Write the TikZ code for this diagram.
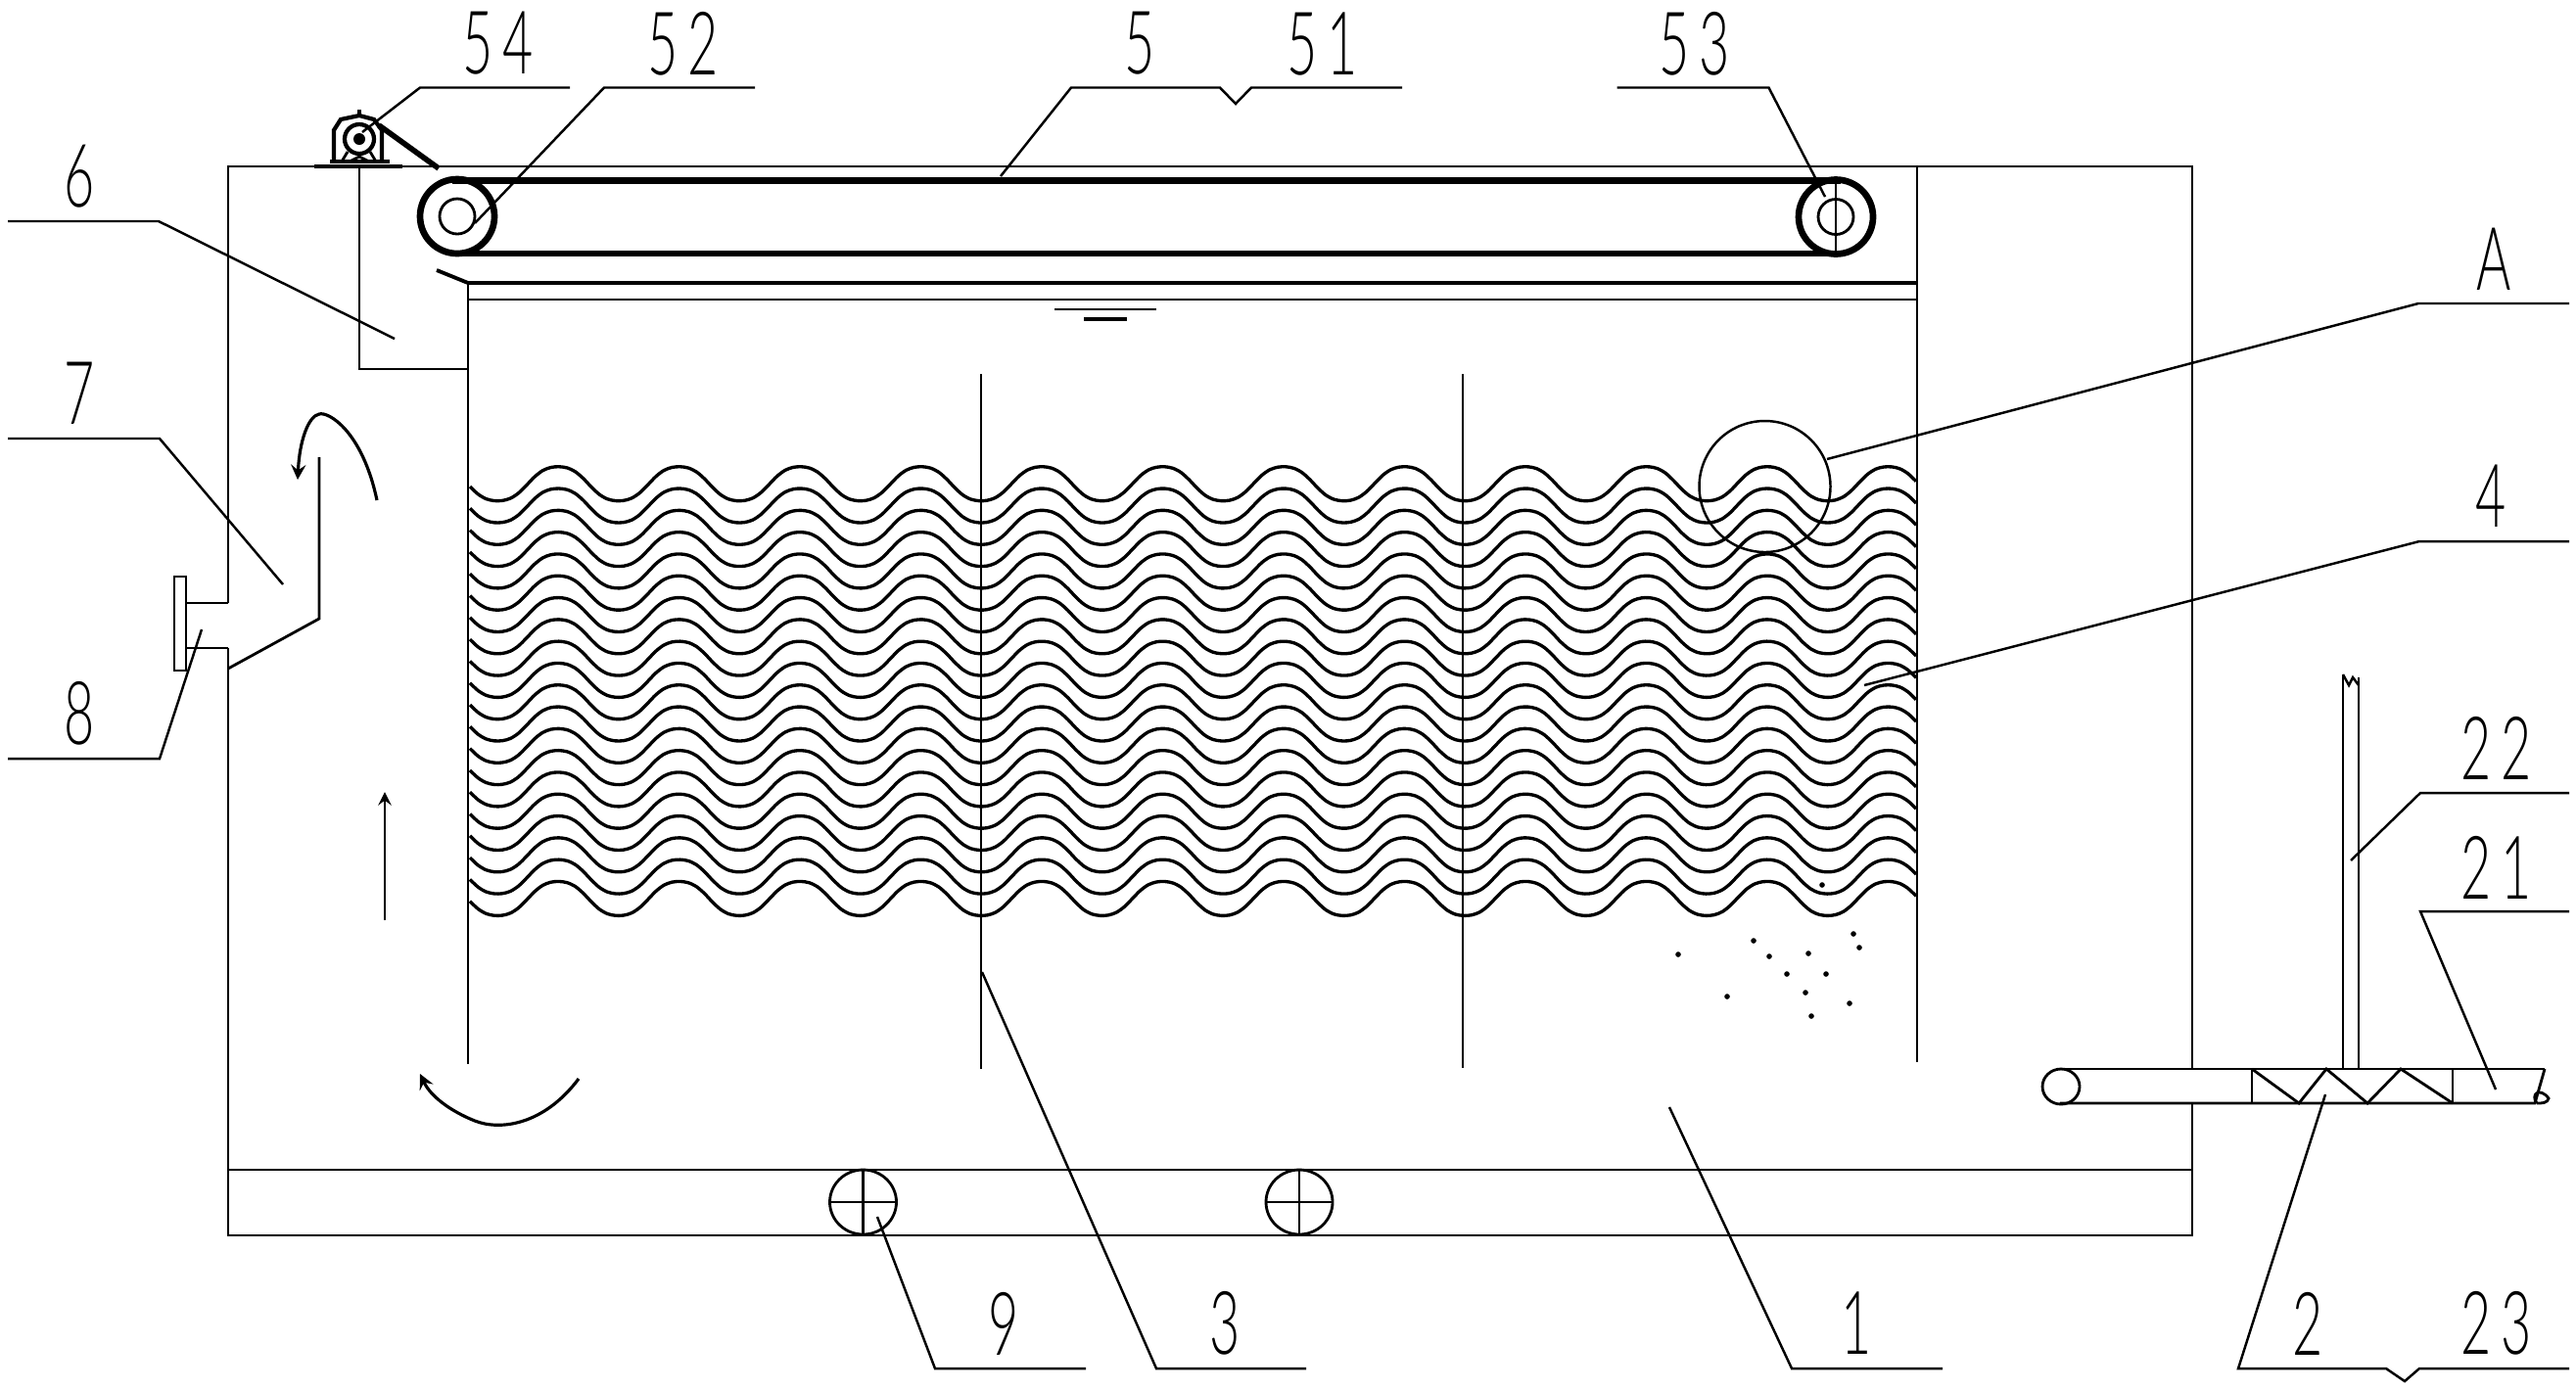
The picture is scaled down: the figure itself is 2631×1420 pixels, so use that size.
\documentclass[tikz,border=0pt]{standalone}
\usepackage{fontspec}
\newfontfamily\partfont[LetterSpace=18]{Lato Light}
\usetikzlibrary{arrows,positioning}
\tikzstyle{partlabel} = [inner sep=0pt, font=\partfont\fontsize{25.5}{26}\selectfont, xscale=0.6]
\tikzstyle{leader} = [line width=0.7pt]
\tikzstyle{wall} = [line width=0.8pt]
\tikzstyle{belt} = [line width=1.9pt]
\tikzstyle{flow} = [line width=0.9pt,->,>=stealth]

\begin{document}
\begin{tikzpicture}[x=0.01cm, y=-0.01cm, line join=miter]
\useasboundingbox (0,0) rectangle (2631,1420);

% Tank
\draw[wall] (233,616) -- (233,170) -- (2239,170) -- (2239,1092);
\draw[wall] (2239,1127) -- (2239,1262) -- (233,1262) -- (233,662);
\draw[wall] (233,1195) -- (2239,1195);

% Inner walls and baffles
\draw[wall] (478,289) -- (478,1087);
\draw[wall] (1958,170) -- (1958,1085);
\draw[wall] (1002,382) -- (1002,1092);
\draw[wall] (1494,382) -- (1494,1091);

% Water level
\draw[line width=1.1pt] (446,276) -- (478,289) -- (1958,289);
\draw[wall] (478,306) -- (1958,306);
\draw[leader] (1077,316) -- (1181,316);
\draw[line width=1.1pt] (1107,326) -- (1151,326);

% Collecting trough
\draw[wall] (367,170) -- (367,377) -- (478,377);

% Belt and pulleys
\draw[belt] (462,184.5) -- (1880,184.5);
\draw[belt] (462,259) -- (1880,259);
\draw[belt] (467,221) circle (38);
\draw[wall] (467,221) circle (18);
\draw[belt] (1875,221.5) circle (38);
\draw[wall] (1875,221.5) circle (18);
\draw[wall] (1875,184) -- (1875,262);

% Motor
\draw[line width=1.2pt] (341,165) -- (341,133) -- (348,122) -- (367,118) -- (382,122) -- (390,133) -- (390,165);
\draw[line width=1.2pt] (367,142) circle (15);
\fill (367,142) circle (6);
\draw[line width=1.1pt] (367,112) -- (367,118);
\draw[wall] (349,165) -- (355,155) (384,165) -- (378,155) (357,165) -- (367,160) -- (377,165);
\draw[line width=1.3pt] (337,165) -- (398,165);
\draw[line width=1.3pt] (321,170) -- (411,170);
\draw[line width=1.6pt] (387,128) -- (448,172);

% Overflow pipe and flange
\draw[wall] (233,616) -- (190,616);
\draw[wall] (233,662) -- (190,662);
\draw[leader] (178,589) rectangle (190,685);
\draw[wall] (233,683) -- (326,632) -- (326,467);

% Corrugated packing
\foreach \row in {0,...,19} {
\draw[line width=0.95pt] plot[smooth, domain=480:1957, samples=180] (\x,{494.2+22.3*\row-18.4*(cos((\x-570)/123.5*360)-0.05*cos((\x-570)/123.5*1080))});
}

% Detail circle
\draw[leader] (1802.5,497) circle (67);

% Particles
\foreach \px/\py in {1714/975,1791/961,1807/977,1847/974,1825/995,1865/995,1764/1018,1844/1014,1889/1025,1850/1038,1893/954,1899/968,1861/904} {
\fill (\px,\py) circle (2.8);
}

% Flow arrows
\draw[flow] (385,511) .. controls (370,440) and (335,420) .. (326,423) .. controls (315,425) and (306,450) .. (304,490);
\draw[leader,->,>=stealth] (393,940) -- (393,809);
\draw[flow] (591,1102) .. controls (555,1150) and (510,1155) .. (485,1145) .. controls (460,1135) and (440,1120) .. (429,1097);

% Aerators
\draw[wall] (881.5,1228) ellipse (34 and 33);
\draw[wall] (847,1228) -- (916,1228) (881.5,1195) -- (881.5,1262);
\draw[wall] (1327,1228) ellipse (34 and 33);
\draw[wall] (1293,1228) -- (1361,1228) (1327,1195) -- (1327,1262);

% Feed pipe and screw
\draw[wall] (2104,1092) -- (2599,1092);
\draw[wall] (2104,1127) -- (2589,1127) -- (2599,1092);
\draw[wall] (2105,1110) ellipse (19 and 18);
\draw[wall] (2591,1127) .. controls (2584,1118) and (2594,1110) .. (2603,1122) .. controls (2602,1127) and (2596,1127) .. (2591,1127);
\draw[wall] (2300,1092) rectangle (2505,1127);
\draw[wall] (2300,1092) -- (2348,1127) -- (2376,1092) -- (2418,1127) -- (2452,1092) -- (2505,1127);
\draw[wall] (2393,1092) -- (2393,689);
\draw[wall] (2409,1092) -- (2409,692);
\draw[leader] (2393,689) -- (2399,700) -- (2403,692) -- (2409,700);

% Labels and leaders
\node (lab54) [partlabel] at (509,44.5) {54};
\coordinate (tip54) at (370,135); \coordinate (knee54) at (429,89.5); \coordinate (end54) at (582,89.5);
\draw[leader] (tip54) -- (knee54) -- (end54);

\node (lab52) [partlabel] at (698,44.5) {52};
\coordinate (tip52) at (485,228); \coordinate (knee52) at (617,89.5); \coordinate (end52) at (771,89.5);
\draw[leader] (tip52) -- (knee52) -- (end52);

\node (lab5) [partlabel] at (1164.5,44.5) {5};
\node (lab51) [partlabel] at (1351,44.5) {51};
\coordinate (tip5) at (1022,180); \coordinate (knee5) at (1094,89.5); \coordinate (end51) at (1432,89.5);
\draw[leader] (tip5) -- (knee5) -- (1246,89.5) -- (1262,106) -- (1278,89.5) -- (end51);

\node (lab53) [partlabel] at (1731,44.5) {53};
\coordinate (tip53) at (1864,201); \coordinate (knee53) at (1806.5,89.5); \coordinate (end53) at (1651.5,89.5);
\draw[leader] (tip53) -- (knee53) -- (end53);

\node (lab6) [partlabel] at (81,180) {6};
\coordinate (tip6) at (403,346); \coordinate (knee6) at (162,226); \coordinate (end6) at (8,226);
\draw[leader] (tip6) -- (knee6) -- (end6);

\node (lab7) [partlabel] at (81,402) {7};
\coordinate (tip7) at (289,597); \coordinate (knee7) at (163,448); \coordinate (end7) at (8,448);
\draw[leader] (tip7) -- (knee7) -- (end7);

\node (lab8) [partlabel] at (81,729) {8};
\coordinate (tip8) at (206,643); \coordinate (knee8) at (163,775); \coordinate (end8) at (8,775);
\draw[leader] (tip8) -- (knee8) -- (end8);

\node (labA) [partlabel] at (2547,265) {A};
\coordinate (tipA) at (1866,469); \coordinate (kneeA) at (2470,310); \coordinate (endA) at (2624,310);
\draw[leader] (tipA) -- (kneeA) -- (endA);

\node (lab4) [partlabel] at (2544,507) {4};
\coordinate (tip4) at (1904,700); \coordinate (knee4) at (2471,553); \coordinate (end4) at (2624,553);
\draw[leader] (tip4) -- (knee4) -- (end4);

\node (lab22) [partlabel] at (2550,764) {22};
\coordinate (tip22) at (2401,879); \coordinate (knee22) at (2472,810); \coordinate (end22) at (2624,810);
\draw[leader] (tip22) -- (knee22) -- (end22);

\node (lab21) [partlabel] at (2550,886) {21};
\coordinate (tip21) at (2549,1113); \coordinate (knee21) at (2472,931); \coordinate (end21) at (2624,931);
\draw[leader] (tip21) -- (knee21) -- (end21);

\node (lab9) [partlabel] at (1025,1352) {9};
\coordinate (tip9) at (896,1243); \coordinate (knee9) at (955,1398); \coordinate (end9) at (1109,1398);
\draw[leader] (tip9) -- (knee9) -- (end9);

\node (lab3) [partlabel] at (1251,1352) {3};
\coordinate (tip3) at (1003,993); \coordinate (knee3) at (1181,1398); \coordinate (end3) at (1334,1398);
\draw[leader] (tip3) -- (knee3) -- (end3);

\node (lab1) [partlabel] at (1896,1352) {1};
\coordinate (tip1) at (1705,1131); \coordinate (knee1) at (1830,1398); \coordinate (end1) at (1984,1398);
\draw[leader] (tip1) -- (knee1) -- (end1);

\node (lab2) [partlabel] at (2357,1352) {2};
\node (lab23) [partlabel] at (2550,1352) {23};
\coordinate (tip2) at (2375,1118); \coordinate (knee2) at (2286,1398); \coordinate (end23) at (2624,1398);
\draw[leader] (tip2) -- (knee2) -- (2437,1398) -- (2456,1411) -- (2471,1398) -- (end23);

\end{tikzpicture}
\end{document}
